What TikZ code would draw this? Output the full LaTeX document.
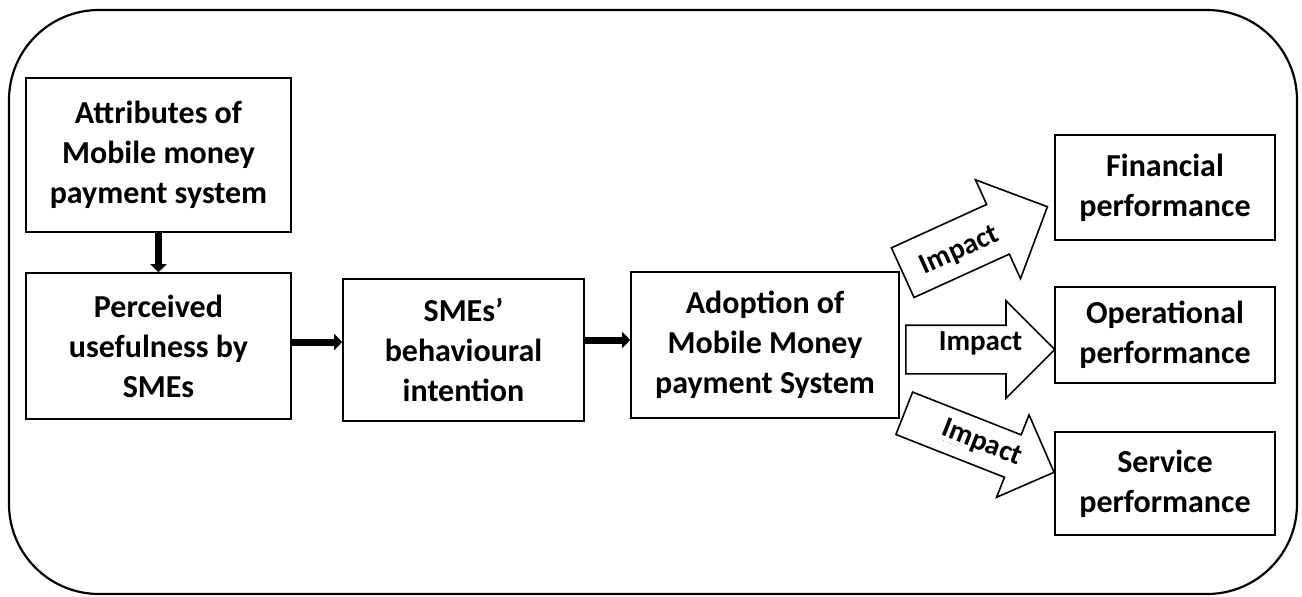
\documentclass[tikz,border=0pt]{standalone}
\usepackage{fontspec}
\setmainfont{Carlito}
\usetikzlibrary{arrows.meta}
\usetikzlibrary{shapes.arrows}

\begin{document}
\begin{tikzpicture}[x=1pt,y=-1pt]
		\useasboundingbox (0,0) rectangle (1302,597);
		% outer frame
		\draw[line width=2.2pt,rounded corners=90pt] (9,10) rectangle (1297,594);

		\begin{scope}[every node/.style={rectangle,draw,line width=1.6pt,align=center,
		              inner sep=0pt,font=\fontsize{32}{40}\selectfont\bfseries}]
			\node[minimum width=265pt,minimum height=154pt] (attr) at (158.5,155) {Attributes of\\Mobile money\\payment system};
			\node[minimum width=265pt,minimum height=146pt] (perc) at (158.5,346) {Perceived\\usefulness by\\SMEs};
			\node[minimum width=241pt,minimum height=142pt] (smes) at (463.5,350) {SMEs’\\behavioural\\intention};
			\node[minimum width=268pt,minimum height=146pt] (adop) at (765,345) {Adoption of\\Mobile Money\\payment System};
			\node[minimum width=220pt,minimum height=105pt] (fin) at (1165,187.5) {Financial\\performance};
			\node[minimum width=220pt,minimum height=96pt] (oper) at (1165,335) {Operational\\performance};
			\node[minimum width=220pt,minimum height=103pt] (serv) at (1165,483.5) {Service\\performance};
		\end{scope}

		\begin{scope}[line width=7pt,-{Triangle[length=8pt,width=16pt]}]
			\draw (attr) -- (perc);
			\draw (perc.east |- 0,342) -- (smes.west |- 0,342);
			\draw (smes.east |- 0,340) -- (adop.west |- 0,340);
		\end{scope}

		% block arrows towards the three performance boxes
		\begin{scope}[every node/.style={single arrow,draw,fill=white,line width=1.6pt,
		              inner sep=0pt,anchor=tail,single arrow head indent=0pt}]
			\node[rotate=24.5,minimum height=159pt,text height=26.5pt,text depth=26.5pt,
			      single arrow head extend=27pt] (imp1) at (902,273) {};
			\node[minimum height=149pt,text height=23.5pt,text depth=23.5pt,
			      single arrow head extend=24.5pt] (imp2) at (905,349.5) {};
			\node[rotate=-21.5,minimum height=161pt,text height=22pt,text depth=22pt,
			      single arrow head extend=21.5pt] (imp3) at (903.5,413) {};
		\end{scope}
		\begin{scope}[every node/.style={anchor=base,inner sep=0pt,
		              font=\fontsize{29}{29}\selectfont\bfseries}]
			\node[rotate=24.5] (imp1text) at (962.5,257.5) {Impact};
			\node (imp2text) at (980.5,350) {Impact};
			\node[rotate=-21.5] (imp3text) at (979,450) {Impact};
		\end{scope}
		\draw[gray!60,dotted,line width=0.8pt] (938,438) -- (957,446);
\end{tikzpicture}
\end{document}
